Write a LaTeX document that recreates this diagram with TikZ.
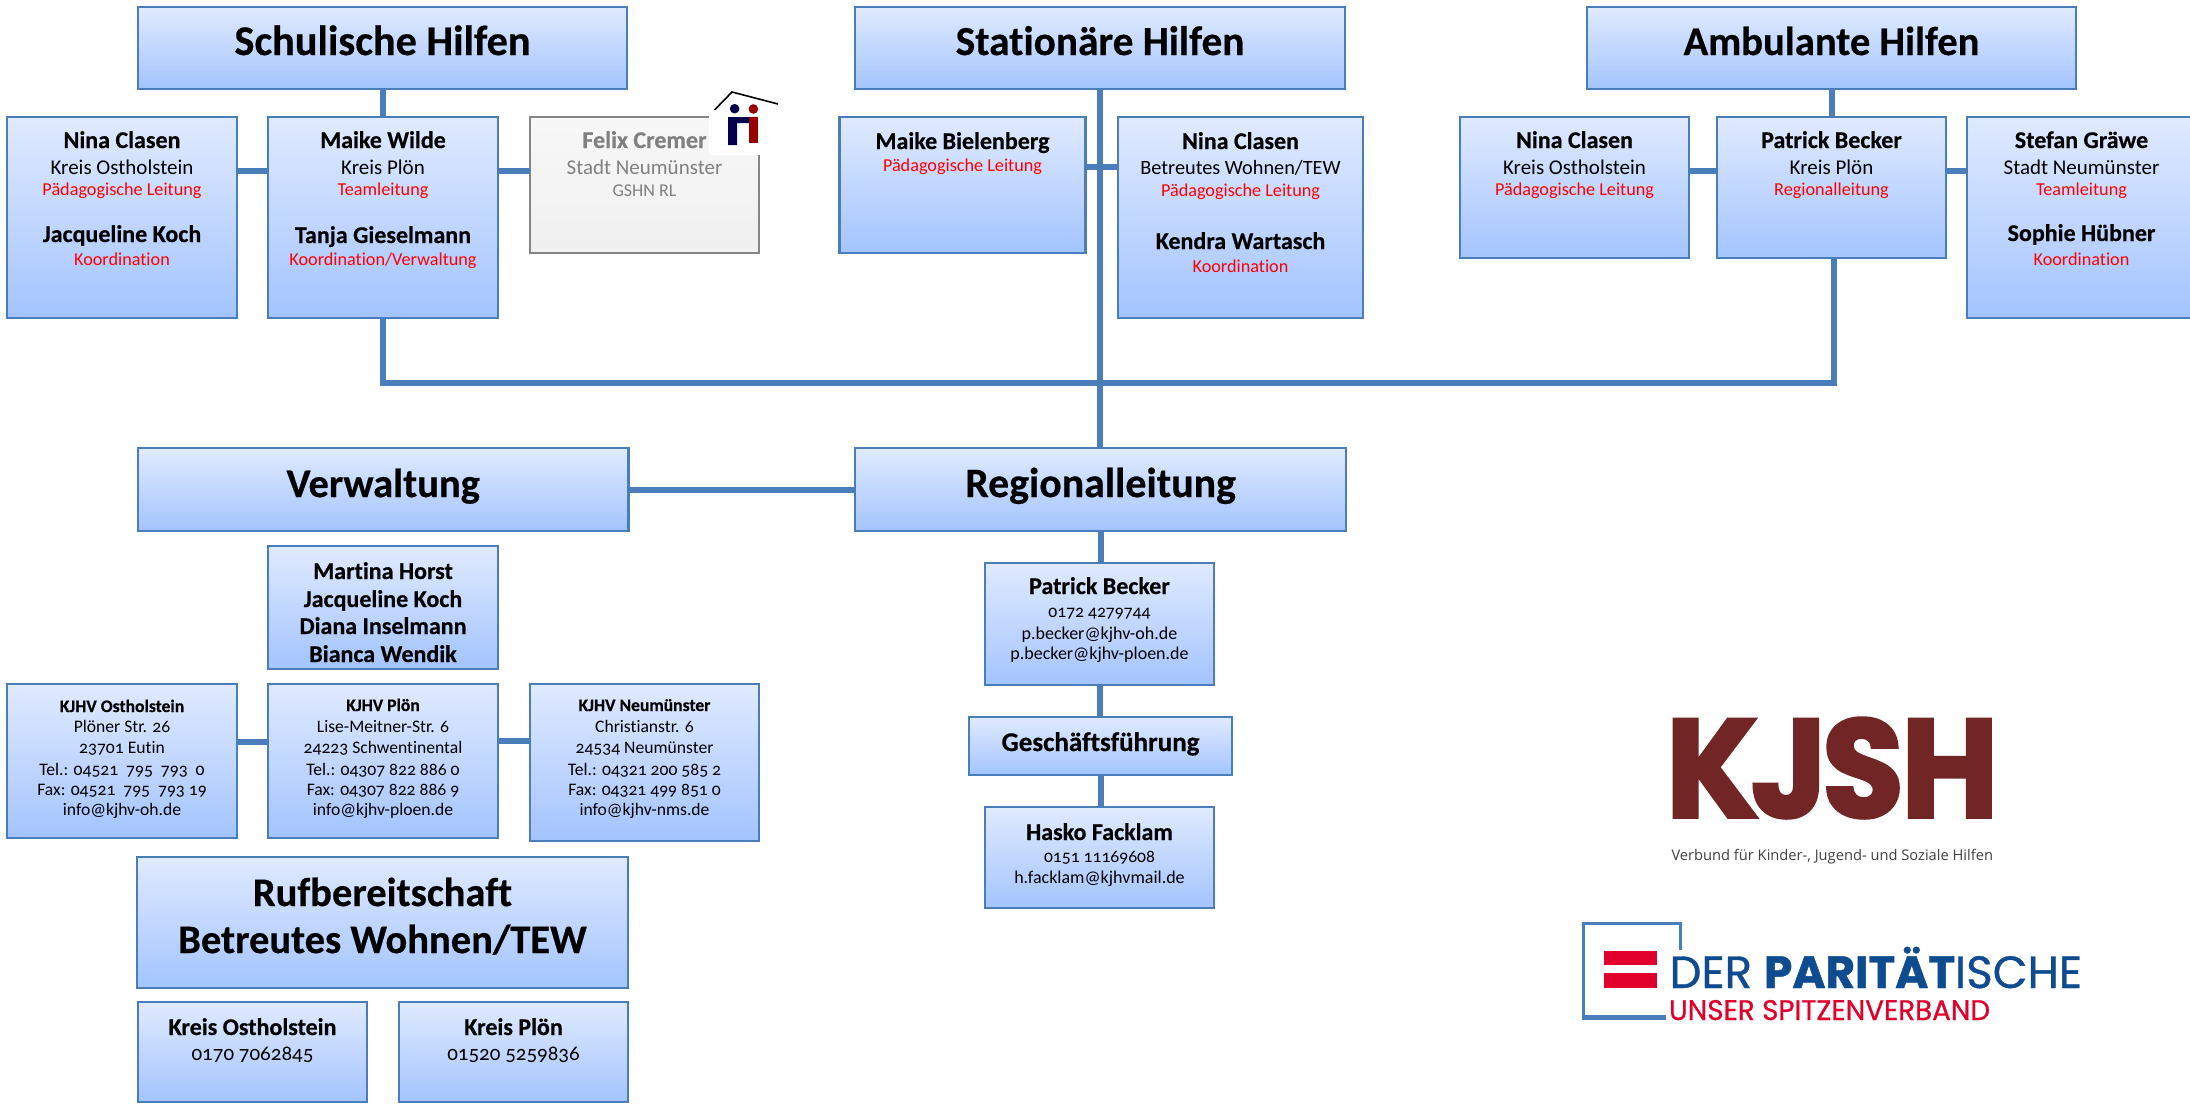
\documentclass[tikz,border=0pt]{standalone}
\usepackage{fontspec}
\usepackage{graphicx}
\setmainfont{Carlito}[Numbers=OldStyle,Ligatures=NoCommon,BoldFeatures={FakeBold=0.5}]
\newfontfamily\logofont{Poppins}[FakeBold=0.8,BoldFeatures={FakeBold=1}]
\newfontfamily\logoheavy{Poppins}[UprightFont=* Bold,FakeBold=2.5]
\newfontfamily\tagfont{Open Sans}
\definecolor{lineblue}{HTML}{4A7EBB}
\definecolor{gradtop}{HTML}{E0EAFF}
\definecolor{gradmid}{HTML}{C0D5FF}
\definecolor{gradbot}{HTML}{A3C4FF}
\definecolor{kjshred}{HTML}{722525}
\definecolor{parblue}{HTML}{0F4C8F}
\definecolor{parred}{HTML}{E0002B}
\definecolor{roleRed}{HTML}{FF0000}
\tikzset{
  orgbox/.style={draw=lineblue,line width=2.5pt,top color=gradtop,middle color=gradmid,bottom color=gradbot,inner sep=0pt,outer sep=0pt},
  greybox/.style={draw=black!48,line width=2.5pt,top color=black!3,bottom color=black!6,inner sep=0pt,outer sep=0pt,text=black!50},
  conn/.style={draw=lineblue,line width=6pt},
  free/.style={inner sep=0pt,outer sep=0pt}
}
\newcommand{\fT}[1]{\fontsize{#1}{42}\selectfont\bfseries}
\newcommand{\fName}{\fontsize{24}{24}\selectfont\bfseries}
\newcommand{\fGF}{\fontsize{27}{27}\selectfont\bfseries}
\newcommand{\fSub}{\fontsize{21}{21}\selectfont}
\newcommand{\fSubN}{\fontsize{20.3}{21}\selectfont}
\newcommand{\fRole}{\fontsize{18.2}{18}\selectfont\color{roleRed}}
\newcommand{\fGrey}{\fontsize{18}{18}\selectfont}
\newcommand{\fSm}{\fontsize{17.6}{18}\selectfont}
\newcommand{\fMail}{\fontsize{18}{18}\selectfont}
\newcommand{\fSmB}{\fontsize{17.6}{18}\selectfont\bfseries}
\newdimen\bxW \newdimen\bxH \newdimen\bxPrev \newdimen\bxGap
\newcommand{\tl}[3]{\bxGap=#1pt \advance\bxGap by -\bxPrev \kern\bxGap \bxPrev=#1pt
  \hbox to \bxW{\hss\smash{#2#3}\hss}}
% \bx{style}{name}{x1}{y1}{x2}{y2}{lines}
\newcommand{\bx}[7]{%
  \pgfmathsetmacro{\bxw}{#5-#3}\pgfmathsetmacro{\bxh}{#6-#4}%
  \bxW=\bxw pt \bxH=\bxh pt \bxPrev=#4pt
  \node[#1,name=#2,anchor=north west] at (#3,#4)
    {\vbox to \bxH{\offinterlineskip #7\vfil}};}
\begin{document}
\begin{tikzpicture}[x=1pt,y=-1pt]
\clip (0,0) rectangle (2190,1106);
\useasboundingbox (0,0) rectangle (2190,1106);
\fill[white] (0,0) rectangle (2190,1106);
% top headers
\bx{orgbox}{schul}{138}{7}{627}{89}{\tl{55}{\fT{42.3}}{Schulische Hilfen}}
\bx{orgbox}{station}{855}{7}{1345}{89}{\tl{55}{\fT{41.3}}{Stationäre Hilfen}}
\bx{orgbox}{ambul}{1587}{7}{2076}{89}{\tl{55}{\fT{40.6}}{Ambulante Hilfen}}
% first row
\bx{orgbox}{ninaA}{7}{117}{237}{318}{\tl{148}{\fName}{Nina Clasen}\tl{174}{\fSub}{Kreis Ostholstein}\tl{195}{\fRole}{Pädagogische Leitung}\tl{242}{\fName}{Jacqueline Koch}\tl{265}{\fRole}{Koordination}}
\bx{orgbox}{maike}{268}{117}{498}{318}{\tl{148}{\fName}{Maike Wilde}\tl{174}{\fSub}{Kreis Plön}\tl{195}{\fRole}{Teamleitung}\tl{243}{\fName}{Tanja Gieselmann}\tl{265}{\fRole}{Koordination/Verwaltung}}
\bx{greybox}{felix}{530}{117}{759}{253}{\tl{148}{\fName}{Felix Cremer}\tl{174}{\fSub}{Stadt Neumünster}\tl{196}{\fGrey}{GSHN RL}}
\bx{orgbox}{biel}{839.5}{117}{1085.5}{253}{\tl{149}{\fName}{Maike Bielenberg}\tl{171}{\fRole}{Pädagogische Leitung}}
\bx{orgbox}{ninaB}{1118}{117}{1363}{318}{\tl{149}{\fName}{Nina Clasen}\tl{174}{\fSubN}{Betreutes Wohnen/TEW}\tl{196}{\fRole}{Pädagogische Leitung}\tl{249}{\fName}{Kendra Wartasch}\tl{272}{\fRole}{Koordination}}
\bx{orgbox}{ninaC}{1460}{117}{1689}{258}{\tl{148}{\fName}{Nina Clasen}\tl{174}{\fSub}{Kreis Ostholstein}\tl{195}{\fRole}{Pädagogische Leitung}}
\bx{orgbox}{patrick}{1717}{117}{1946}{258}{\tl{148}{\fName}{Patrick Becker}\tl{174}{\fSub}{Kreis Plön}\tl{195}{\fRole}{Regionalleitung}}
\bx{orgbox}{stefan}{1967}{117}{2196}{318}{\tl{148}{\fName}{Stefan Gräwe}\tl{174}{\fSub}{Stadt Neumünster}\tl{195}{\fRole}{Teamleitung}\tl{241}{\fName}{Sophie Hübner}\tl{265}{\fRole}{Koordination}}
% second tier
\bx{orgbox}{verw}{138}{448}{628.5}{531}{\tl{497}{\fT{40.5}}{Verwaltung}}
\bx{orgbox}{regio}{855}{448}{1346}{531}{\tl{497}{\fT{41.8}}{Regionalleitung}}
\bx{orgbox}{staff}{268}{546}{498}{669}{\tl{579}{\fName}{Martina Horst}\tl{607}{\fName}{Jacqueline Koch}\tl{634}{\fName}{Diana Inselmann}\tl{662}{\fName}{Bianca Wendik}}
% offices
\bx{orgbox}{kjhvoh}{7}{684}{237}{838}{\tl{712}{\fSmB}{KJHV Ostholstein}\tl{732}{\fSm}{Plöner Str. 26}\tl{753}{\fSm}{23701 Eutin}\tl{775}{\fSm}{Tel.: 04521\ \ 795\ \ 793\ \ 0}\tl{795}{\fSm}{Fax: 04521\ \ 795\ \ 793 19}\tl{815}{\fSm}{info@kjhv-oh.de}}
\bx{orgbox}{kjhvpl}{268}{684}{498}{838}{\tl{711}{\fSmB}{KJHV Plön}\tl{732}{\fSm}{Lise-Meitner-Str. 6}\tl{753}{\fSm}{24223 Schwentinental}\tl{775}{\fSm}{Tel.: 04307 822 886 0}\tl{795}{\fSm}{Fax: 04307 822 886 9}\tl{815}{\fSm}{info@kjhv-ploen.de}}
\bx{orgbox}{kjhvnm}{530}{684}{759}{841}{\tl{711}{\fSmB}{KJHV Neumünster}\tl{732}{\fSm}{Christianstr. 6}\tl{753}{\fSm}{24534 Neumünster}\tl{775}{\fSm}{Tel.: 04321 200 585 2}\tl{795}{\fSm}{Fax: 04321 499 851 0}\tl{815}{\fSm}{info@kjhv-nms.de}}
% on call
\bx{orgbox}{ruf}{137}{857}{628}{988}{\tl{906}{\fT{40.5}}{Rufbereitschaft}\tl{953}{\fT{40.5}}{Betreutes Wohnen/TEW}}
\bx{orgbox}{kroh}{138}{1002}{367}{1102}{\tl{1035}{\fName}{Kreis Ostholstein}\tl{1060}{\fSub}{0170 7062845}}
\bx{orgbox}{krpl}{399}{1002}{628}{1102}{\tl{1035}{\fName}{Kreis Plön}\tl{1060}{\fSub}{01520 5259836}}
% management column
\bx{orgbox}{becker}{985}{563}{1214}{685}{\tl{594}{\fName}{Patrick Becker}\tl{617}{\fSm}{0172 4279744}\tl{639}{\fMail}{p.becker@kjhv-oh.de}\tl{659}{\fMail}{p.becker@kjhv-ploen.de}}
\bx{orgbox}{gf}{969}{717}{1232}{775}{\tl{751}{\fGF}{Geschäftsführung}}
\bx{orgbox}{hasko}{985}{807}{1214}{908}{\tl{840}{\fName}{Hasko Facklam}\tl{862}{\fSm}{0151 11169608}\tl{883}{\fMail}{h.facklam@kjhvmail.de}}
% connectors
\coordinate (hub) at (1100,383);
\draw[conn] (schul.south) -- (schul.south |- maike.north);
\draw[conn] (station.south) -- (station.south |- regio.north);
\draw[conn] (ambul.south) -- (ambul.south |- patrick.north);
\draw[conn] (maike.south) |- (hub) -| ([xshift=2.5pt]patrick.south);
\draw[conn] ([yshift=-54pt]ninaA.north east) -- ([yshift=-54pt]maike.north west);
\draw[conn] ([yshift=-54pt]maike.north east) -- ([yshift=-54pt]felix.north west);
\draw[conn] ([yshift=-50pt]biel.north east) -- ([yshift=-50pt]ninaB.north west);
\draw[conn] ([yshift=-54pt]ninaC.north east) -- ([yshift=-54pt]patrick.north west);
\draw[conn] ([yshift=-54pt]patrick.north east) -- ([yshift=-54pt]stefan.north west);
\draw[conn] (verw.east) -- (regio.west);
\draw[conn] (regio.south) -- (regio.south |- becker.north);
\draw[conn] (becker.south) -- (becker.south |- gf.north);
\draw[conn] (gf.south) -- (gf.south |- hasko.north);
\draw[conn] ([yshift=-58pt]kjhvoh.north east) -- ([yshift=-58pt]kjhvpl.north west);
\draw[conn] ([yshift=-57pt]kjhvpl.north east) -- ([yshift=-57pt]kjhvnm.north west);
% small house logo
\fill[white] (709,92) rectangle (772,155);
\draw[black,line width=1.6pt] (714.5,110) -- (732,92) -- (778,104);
\fill[blue!30!black] (734.6,108.7) circle (4.8);
\fill[red!60!black] (753.4,109) circle (4.8);
\fill[blue!30!black] (728,145) -- (728,117) -- (749,117) -- (749,123) -- (737,123) -- (737,145) -- cycle;
\fill[red!60!black] (749,117) rectangle (758,143);
% KJSH logo
\node[free,name=kjsh,anchor=north west,text=kjshred] at (1666,718)
  {\resizebox{332pt}{99pt}{\logoheavy K\kern-.06em J\kern-.04em S\kern-.02em H}};
\node[free,name=kjshtag,anchor=base west,text=black!75] at (1671.5,860)
  {\resizebox{321.5pt}{!}{\tagfont Verbund für Kinder-, Jugend- und Soziale Hilfen}};
% Paritaetische logo
\draw[lineblue,line width=3pt] (1680.5,950) -- (1680.5,923) -- (1583.5,923) -- (1583.5,1018);
\fill[lineblue] (1582,1015) rectangle (1666,1020);
\fill[parred] (1604,951) rectangle (1657,965);
\fill[parred] (1604,973) rectangle (1657,988);
\node[free,name=par,anchor=base west,text=parblue] at (1669.5,988)
  {\resizebox{412.5pt}{!}{\logofont DER \bfseries PARITÄT\mdseries ISCHE}};
\node[free,name=parsub,anchor=base west,text=parred] at (1669,1020)
  {\resizebox{321pt}{20pt}{\logofont UNSER SPITZENVERBAND}};
\end{tikzpicture}
\end{document}
